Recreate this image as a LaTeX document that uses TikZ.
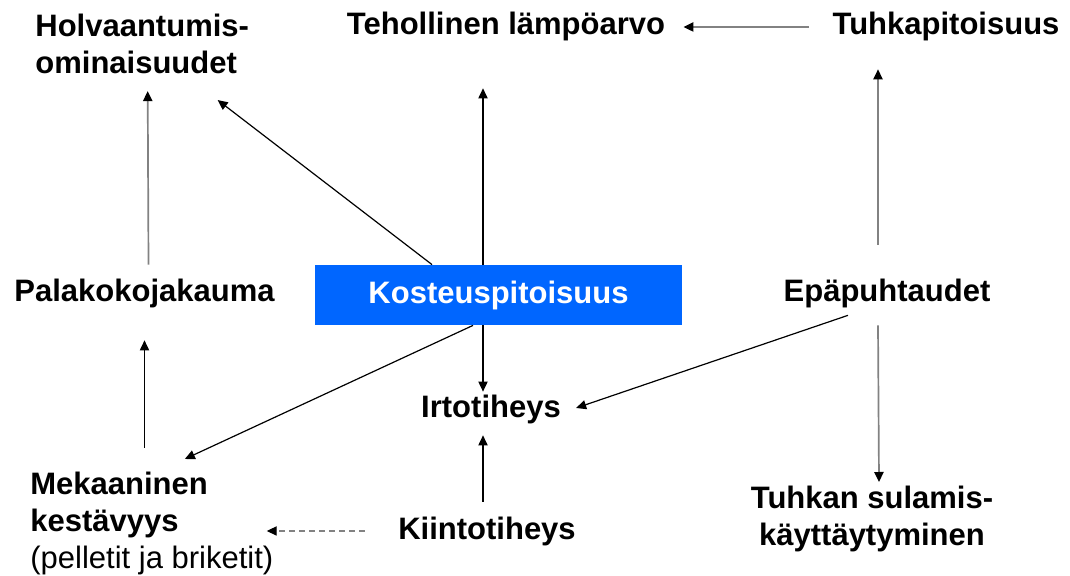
\documentclass[tikz,border=0pt]{standalone}
\usepackage{fontspec}
\setmainfont{Liberation Sans}
\usepackage{xcolor}
\definecolor{fblue}{RGB}{0,102,255}
\definecolor{fgray}{RGB}{130,130,130}
\usetikzlibrary{arrows.meta,calc}

\begin{document}
\begin{tikzpicture}[
  x=0.5pt,y=-0.5pt,
  lbl/.style={font=\fontsize{15.5}{18.5}\selectfont\bfseries,inner sep=0pt},
  arr/.style={-{Triangle[length=5pt,width=4.6pt,color=black]},line width=0.6pt,black},
  garr/.style={arr,fgray,line width=0.85pt},
  darr/.style={arr,fgray,dashed,dash pattern=on 3pt off 2pt,line width=0.6pt}
]
  \useasboundingbox (0,0) rectangle (1070,576);
  % Properties
  \node[lbl,anchor=north west,align=left] (holv) at (35,13.5) {Holvaantumis-\\ominaisuudet};
  \node[lbl,anchor=base] (teho) at (506,35) {Tehollinen lämpöarvo};
  \node[lbl,anchor=base] (tuhka) at (946,35) {Tuhkapitoisuus};
  \node[lbl,anchor=base west] (pala) at (14,302) {Palakokojakauma};
  \node[lbl,fill=fblue,text=white,minimum width=183.5pt,minimum height=30pt] (kost) at (498.5,295) {Kosteuspitoisuus};
  \node[lbl,anchor=base] (epa) at (887,302) {Epäpuhtaudet};
  \node[lbl,anchor=base] (irto) at (491,418) {Irtotiheys};
  \node[lbl,anchor=north west,align=left] (mek) at (30,471.5)
    {Mekaaninen\\kestävyys\\{\mdseries(pelletit ja briketit)}};
  \node[lbl,anchor=base] (kiin) at (487,539) {Kiintotiheys};
  \node[lbl,anchor=north,align=center] (tsul) at (872,485.5) {Tuhkan sulamis-\\käyttäytyminen};
  % Arrows
  \draw[garr] ($(pala.north)+(4,-14.5)$) -- ($(holv.south)+(5.5,17)$);
  \draw[arr] ($(kost.north)+(-66.5,0)$) -- ($(holv.south)+(75.5,26)$);
  \draw[arr] ($(kost.north)+(-15.5,0)$) -- ($(teho.south)+(-23,46.5)$);
  \draw[garr] ($(epa.north)+(-9,-34.5)$) -- ($(tuhka.south)+(-68,27.5)$);
  \draw[garr,shorten <=11.5pt,shorten >=9pt] (tuhka.west) -- (teho.east);
  \draw[arr] ($(kost.south)+(-15.5,0)$) -- ($(irto.north)+(-8,-3.5)$);
  \draw[arr] ($(kost.south)+(-25.5,0)$) -- ($(mek.north)+(33,-12.5)$);
  \draw[arr] ($(epa.south)+(-39,6.5)$) -- ($(irto.east)+(15,-2)$);
  \draw[garr] ($(epa.south)+(-9,16.5)$) -- ($(tsul.north)+(7,-3.5)$);
  \draw[arr] ($(mek.north -| pala.south)+(0,-23.5)$) -- ($(pala.south)+(0,31.5)$);
  \draw[arr] ($(kiin.north)+(-4,-14.5)$) -- ($(irto.south)+(-8,10.5)$);
  % Dashed link
  \draw[darr] ($(kiin.west)+(-33,0)$) -- ($(kiin.west -| mek.east)+(-7,0)$);
\end{tikzpicture}
\end{document}
